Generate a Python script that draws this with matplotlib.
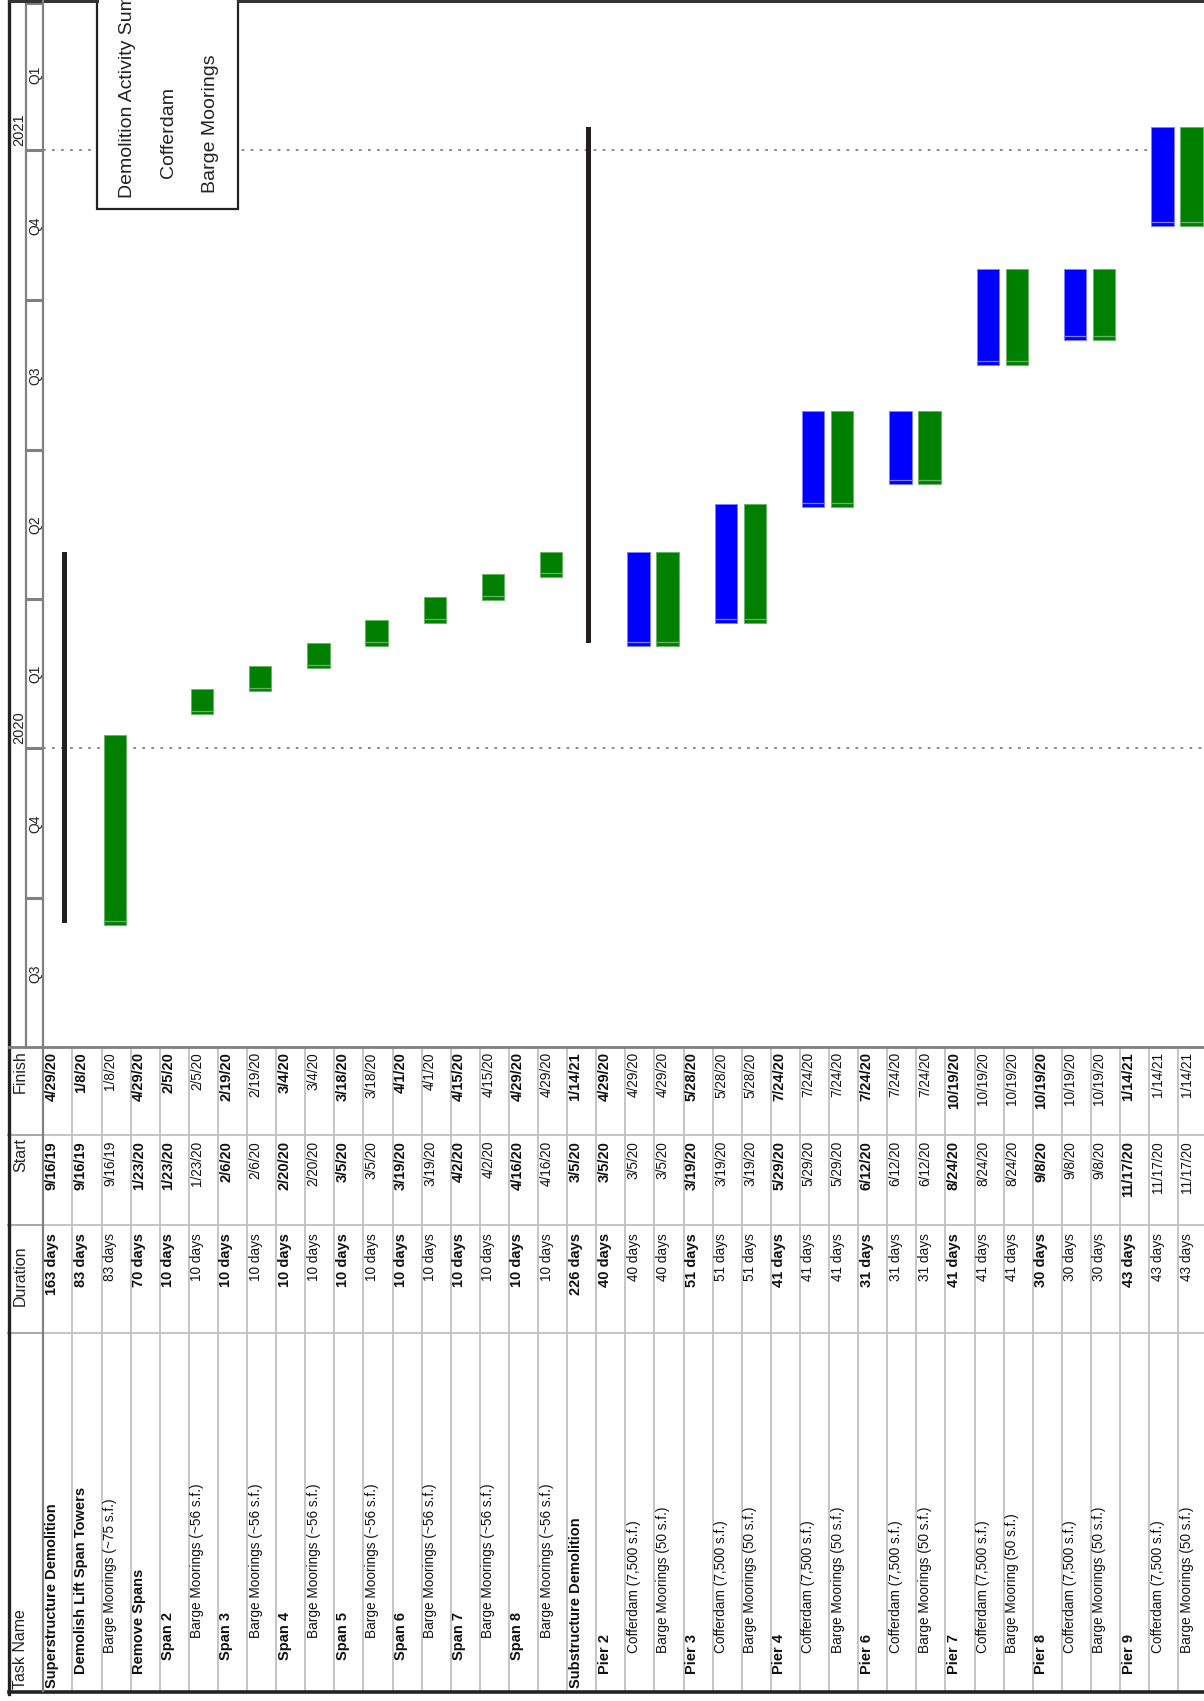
import datetime as dt

import matplotlib
matplotlib.use("Agg")
import matplotlib.dates as mdates
import matplotlib.pyplot as plt
from matplotlib.patches import Rectangle

plt.rcParams["font.family"] = ["Liberation Sans", "DejaVu Sans"]

# ---------------------------------------------------------------
# schedule data (one entry per table row)
# ---------------------------------------------------------------
task_names = [
    "Superstructure Demolition", "Demolish Lift Span Towers", "Barge Moorings (~75 s.f.)",
    "Remove Spans",
    "Span 2", "Barge Moorings (~56 s.f.)",
    "Span 3", "Barge Moorings (~56 s.f.)",
    "Span 4", "Barge Moorings (~56 s.f.)",
    "Span 5", "Barge Moorings (~56 s.f.)",
    "Span 6", "Barge Moorings (~56 s.f.)",
    "Span 7", "Barge Moorings (~56 s.f.)",
    "Span 8", "Barge Moorings (~56 s.f.)",
    "Substructure Demolition",
    "Pier 2", "Cofferdam (7,500 s.f.)", "Barge Moorings (50 s.f.)",
    "Pier 3", "Cofferdam (7,500 s.f.)", "Barge Moorings (50 s.f.)",
    "Pier 4", "Cofferdam (7,500 s.f.)", "Barge Moorings (50 s.f.)",
    "Pier 6", "Cofferdam (7,500 s.f.)", "Barge Moorings (50 s.f.)",
    "Pier 7", "Cofferdam (7,500 s.f.)", "Barge Mooring (50 s.f.)",
    "Pier 8", "Cofferdam (7,500 s.f.)", "Barge Moorings (50 s.f.)",
    "Pier 9", "Cofferdam (7,500 s.f.)", "Barge Moorings (50 s.f.)",
]
outline_levels = [1, 2, 3, 2] + [3, 4] * 7 + [1] + [2, 3, 3] * 7
is_summary = [True, True, False, True] + [True, False] * 7 + [True] + [True, False, False] * 7
durations = [163, 83, 83, 70] + [10, 10] * 7 + [226] + \
    [40] * 3 + [51] * 3 + [41] * 3 + [31] * 3 + [41] * 3 + [30] * 3 + [43] * 3
starts = ["9/16/19", "9/16/19", "9/16/19", "1/23/20",
          "1/23/20", "1/23/20", "2/6/20", "2/6/20", "2/20/20", "2/20/20",
          "3/5/20", "3/5/20", "3/19/20", "3/19/20", "4/2/20", "4/2/20",
          "4/16/20", "4/16/20",
          "3/5/20",
          "3/5/20", "3/5/20", "3/5/20", "3/19/20", "3/19/20", "3/19/20",
          "5/29/20", "5/29/20", "5/29/20", "6/12/20", "6/12/20", "6/12/20",
          "8/24/20", "8/24/20", "8/24/20", "9/8/20", "9/8/20", "9/8/20",
          "11/17/20", "11/17/20", "11/17/20"]
finishes = ["4/29/20", "1/8/20", "1/8/20", "4/29/20",
            "2/5/20", "2/5/20", "2/19/20", "2/19/20", "3/4/20", "3/4/20",
            "3/18/20", "3/18/20", "4/1/20", "4/1/20", "4/15/20", "4/15/20",
            "4/29/20", "4/29/20",
            "1/14/21",
            "4/29/20", "4/29/20", "4/29/20", "5/28/20", "5/28/20", "5/28/20",
            "7/24/20", "7/24/20", "7/24/20", "7/24/20", "7/24/20", "7/24/20",
            "10/19/20", "10/19/20", "10/19/20", "10/19/20", "10/19/20", "10/19/20",
            "1/14/21", "1/14/21", "1/14/21"]
# what gets drawn in the chart for each row
bar_types = ["summary", None, "mooring", None] + [None, "mooring"] * 7 + ["summary"] + \
    [None, "cofferdam", "mooring"] * 7

legend_title = "Demolition Activity Summary"
legend_items = ["Cofferdam", "Barge Moorings"]
quarter_starts = ["7/1/19", "10/1/19", "1/1/20", "4/1/20", "7/1/20", "10/1/20", "1/1/21", "4/1/21"]
year_starts = ["1/1/20", "1/1/21"]
year_labels = ["2020", "2021"]
headers = ["Finish", "Start", "Duration", "Task Name"]

colors = {"cofferdam": "#0000ff", "mooring": "#008000", "summary": "#231f20"}
stripe = {"cofferdam": "#7f7fff", "mooring": "#66b266"}


def to_num(s):
    return mdates.date2num(dt.datetime.strptime(s, "%m/%d/%y"))


# ---------------------------------------------------------------
# layout (pixel based, figure is 1204 x 1701)
# ---------------------------------------------------------------
W, H = 1204, 1701
fig = plt.figure(figsize=(W / 100, H / 100), dpi=100)


def add_ax(x0, x1, y0, y1):
    return fig.add_axes([x0 / W, 1 - y1 / H, (x1 - x0) / W, (y1 - y0) / H])


ROW_W = 29.1
CHART_X0, TABLE_Y0, TABLE_Y1 = 43.3, 1047.3, 1690.5
n_rows = len(task_names)
row_lim = (0, (W - CHART_X0) / ROW_W)

jan1 = to_num("1/1/20")
px_day = 1.634
time_lim = (jan1 - (TABLE_Y0 - 747.7) / px_day, jan1 + 747.7 / px_day)

# chart area
ax = add_ax(CHART_X0, W, 0, TABLE_Y0)
ax.set_xlim(*row_lim)
ax.set_ylim(*time_lim)
ax.axis("off")

for ys in year_starts:
    ax.axhline(to_num(ys), color="#808080", lw=1.3, ls=(0, (1.5, 3.5)), zorder=1)

for i, kind in enumerate(bar_types):
    if kind is None:
        continue
    s = to_num(starts[i])
    f = to_num(finishes[i]) + 1
    if kind == "summary":
        ax.bar(i + 0.65, f - s, bottom=s, width=0.17, align="edge",
               color=colors[kind], zorder=3)
    else:
        s0 = s - 1.5
        ax.bar(i + 0.07, f - s0, bottom=s0, width=0.77, align="edge",
               color=colors[kind], edgecolor=stripe[kind], lw=0.6, zorder=3)
        ax.plot([i + 0.07, i + 0.84], [s0 + 2.2, s0 + 2.2], color=stripe[kind],
                lw=0.9, zorder=4)

# timescale header (years + quarters)
hx = add_ax(7.3, CHART_X0, 0, TABLE_Y0)
hx.set_xlim(7.3, CHART_X0)
hx.set_ylim(*time_lim)
hx.axis("off")
hx.axvline(26.2, color="#808080", lw=1.6)
for qs in quarter_starts:
    hx.plot([26.2, CHART_X0], [to_num(qs)] * 2, color="#808080", lw=2.2, solid_capstyle="butt")
for k in range(len(quarter_starts)):
    q0 = to_num(quarter_starts[k])
    mid = q0 + 45.5
    if mid > time_lim[1]:
        continue
    qn = (dt.datetime.strptime(quarter_starts[k], "%m/%d/%y").month - 1) // 3 + 1
    hx.text(39.8, mid, f"Q{qn}", rotation=90, rotation_mode="anchor",
            ha="center", va="baseline", fontsize=10, color="#222222")
for ys, yl in zip(year_starts, year_labels):
    hx.text(23.4, to_num(ys) + 2.5, yl, rotation=90,
            rotation_mode="anchor", ha="left", va="baseline", fontsize=10.5, color="#222222")

# legend box (top of sheet, partly cut off)
lg = add_ax(0, W, 0, TABLE_Y0)
lg.set_xlim(0, W)
lg.set_ylim(TABLE_Y0, 0)
lg.axis("off")
lg.add_patch(Rectangle((97.3, -60), 140.4, 269.3, facecolor="white",
                       edgecolor="#222222", lw=1.6, zorder=5))
lg.text(132.5, 198, legend_title, rotation=90, rotation_mode="anchor",
        ha="left", va="baseline", fontsize=14, color="#222222", zorder=6)
lg.text(173, 178, legend_items[0], rotation=90, rotation_mode="anchor",
        ha="left", va="baseline", fontsize=14, color="#222222", zorder=6)
lg.text(215, 193, legend_items[1], rotation=90, rotation_mode="anchor",
        ha="left", va="baseline", fontsize=14, color="#222222", zorder=6)

# table body
cols = [1047.3, 1135, 1225, 1333, TABLE_Y1]
tx = add_ax(CHART_X0, W, TABLE_Y0, TABLE_Y1)
tx.set_xlim(*row_lim)
tx.set_ylim(TABLE_Y1, TABLE_Y0)
tx.axis("off")
for r in range(1, n_rows + 1):
    tx.axvline(r, color="#c0c0c0", lw=1.3)
for c in cols[1:-1]:
    tx.axhline(c, color="#c0c0c0", lw=1.3)

base = 0.43
indent = {1: 0, 2: 14, 3: 28, 4: 50}
for i in range(n_rows):
    w = "bold" if is_summary[i] else "normal"
    fs = 10.5 if is_summary[i] else 9.8
    lvl = outline_levels[i]
    ind = indent[lvl] + (7 if (not is_summary[i] and lvl == 3) else 0)
    tx.text(i + base, TABLE_Y1 - 2.5 - ind, task_names[i], rotation=90, rotation_mode="anchor",
            ha="left", va="baseline", fontsize=fs, fontweight=w, color="#111111")
    tx.text(i + base, cols[2] + 8, f"{durations[i]} days", rotation=90, rotation_mode="anchor",
            ha="right", va="baseline", fontsize=fs, fontweight=w, color="#111111")
    tx.text(i + base, cols[1] + 6, starts[i], rotation=90, rotation_mode="anchor",
            ha="right", va="baseline", fontsize=fs, fontweight=w, color="#111111")
    tx.text(i + base, cols[0] + 5, finishes[i], rotation=90, rotation_mode="anchor",
            ha="right", va="baseline", fontsize=fs, fontweight=w, color="#111111")

# table header column
th = add_ax(7.3, CHART_X0, TABLE_Y0, TABLE_Y1)
th.set_xlim(7.3, CHART_X0)
th.set_ylim(TABLE_Y1, TABLE_Y0)
th.axis("off")
for c in cols[1:-1]:
    th.axhline(c, color="#a0a0a0", lw=1.3)
for k, hname in enumerate(headers):
    if hname == "Task Name":
        th.text(25, TABLE_Y1 - 2, hname, rotation=90, rotation_mode="anchor",
                ha="left", va="baseline", fontsize=11.5, color="#222222")
    elif hname == "Duration":
        th.text(25, (cols[k] + cols[k + 1]) / 2 - 3, hname, rotation=90, rotation_mode="anchor",
                ha="center", va="baseline", fontsize=11.5, color="#222222")
    else:
        th.text(25, cols[k] + 3, hname, rotation=90, rotation_mode="anchor",
                ha="right", va="baseline", fontsize=11.5, color="#222222")

# frame lines
fr = add_ax(0, W, 0, H)
fr.set_xlim(0, W)
fr.set_ylim(H, 0)
fr.axis("off")
fr.plot([8.5, 8.5], [0, TABLE_Y1 + 3], color="#222222", lw=2.4)
fr.plot([8.5, 97.3], [1.2, 1.2], color="#333333", lw=2.2)
fr.plot([237.7, W], [1.2, 1.2], color="#333333", lw=2.2)
fr.plot([8.5, W], [TABLE_Y1 + 1.8, TABLE_Y1 + 1.8], color="#222222", lw=2.6)
fr.plot([8.5, W], [TABLE_Y0, TABLE_Y0], color="#808080", lw=2)
fr.plot([CHART_X0, CHART_X0], [0, TABLE_Y1], color="#808080", lw=1.6)

fig.savefig("out.png", dpi=100)
